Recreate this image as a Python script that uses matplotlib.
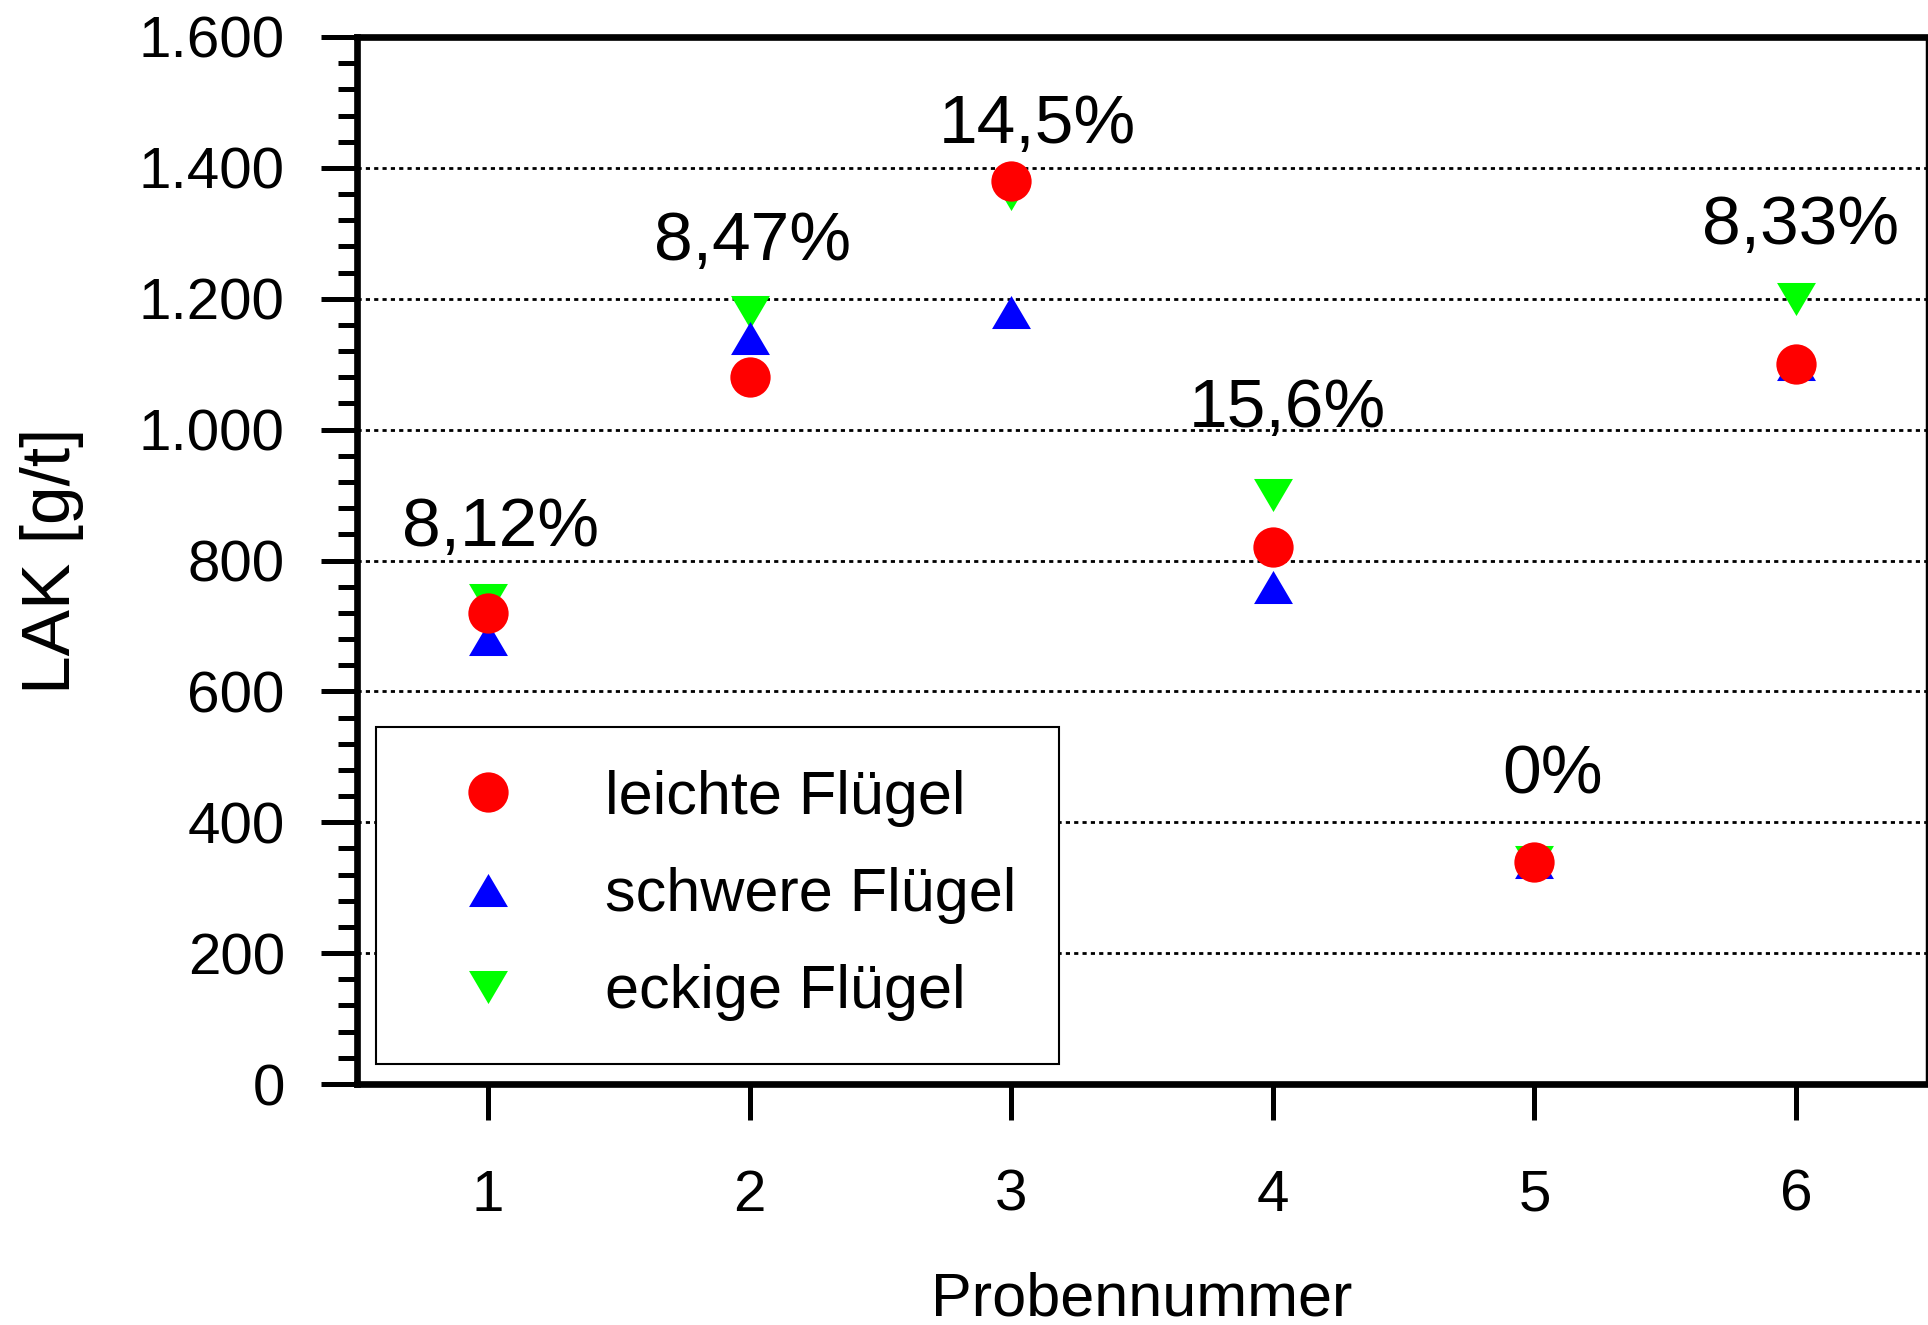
"""LAK je Probe fuer drei Fluegelformen (Streudiagramm mit Abweichung in %)."""
import matplotlib as mpl
import matplotlib.pyplot as plt
from matplotlib.ticker import FuncFormatter, MultipleLocator

# ---------------------------------------------------------------------------
# Daten
# ---------------------------------------------------------------------------
proben = [1, 2, 3, 4, 5, 6]
leichte = [720, 1080, 1380, 820, 340, 1100]
schwere = [680, 1140, 1180, 760, 340, 1100]
eckige = [740, 1180, 1360, 900, 340, 1200]

abweichung = ["8,12%", "8,47%", "14,5%", "15,6%", "0%", "8,33%"]
# Position der Prozentangaben (Datenkoordinaten)
abw_x = [1.05, 2.01, 3.10, 4.055, 5.07, 6.015]
abw_y = [849, 1286, 1465, 1031, 471, 1311]

y_ticks = [0, 200, 400, 600, 800, 1000, 1200, 1400, 1600]

# ---------------------------------------------------------------------------
# Stil
# ---------------------------------------------------------------------------
mpl.rcParams.update({
    "font.family": ["Liberation Sans", "DejaVu Sans"],
    "font.size": 44,
    "figure.facecolor": "white",
})

ROT = "#FF0000"
BLAU = "#0000FF"
GRUEN = "#00FF00"

# Dreiecke etwas flacher als die Standardmarker
TRI_UP = [(-1, -0.85), (1, -0.85), (0, 0.85)]
TRI_DOWN = [(-1, 0.85), (1, 0.85), (0, -0.85)]

fig = plt.figure(figsize=(19.28, 13.25), dpi=100)
ax = fig.add_axes([357 / 1928, 1 - 1084 / 1325,
                   (1927 - 357) / 1928, (1084 - 37) / 1325])

ax.plot(proben, eckige, ls="none", marker=TRI_DOWN, ms=28, mew=0,
        color=GRUEN, label="eckige Flügel", zorder=3)
ax.plot(proben, schwere, ls="none", marker=TRI_UP, ms=28, mew=0,
        color=BLAU, label="schwere Flügel", zorder=4)
ax.plot(proben, leichte, ls="none", marker="o", ms=29, mew=0,
        color=ROT, label="leichte Flügel", zorder=5)

for txt, x, y in zip(abweichung, abw_x, abw_y):
    ax.text(x, y, txt, fontsize=50, ha="center", va="center", zorder=6)

# Achsen
ax.set_xlim(0.5, 6.5)
ax.set_ylim(0, 1600)
ax.set_xticks(proben)
ax.set_yticks(y_ticks)
ax.yaxis.set_minor_locator(MultipleLocator(40))
ax.yaxis.set_major_formatter(
    FuncFormatter(lambda v, p: f"{int(v):,}".replace(",", ".")))

ax.tick_params(axis="both", which="major", direction="out", length=26,
               width=3.6, labelsize=42)
ax.tick_params(axis="y", which="major", pad=26)
ax.tick_params(axis="x", which="major", pad=35)
ax.tick_params(axis="y", which="minor", direction="out", length=14,
               width=3.6)
ax.tick_params(top=False, right=False)

for side in ("left", "top", "bottom"):
    ax.spines[side].set_linewidth(4.8)
ax.spines["right"].set_linewidth(2.5)

ax.yaxis.grid(True, which="major", color="black", lw=2.0,
              ls=(0, (1.5, 1.5)))
ax.set_axisbelow(True)

ax.set_xlabel("Probennummer", fontsize=44, va="center")
ax.xaxis.set_label_coords(0.5, -0.206)
ax.set_ylabel("LAK [g/t]", fontsize=50, va="center")
ax.yaxis.set_label_coords(-0.194, 0.5)

# Legende: Reihenfolge leicht, schwer, eckig
h, l = ax.get_legend_handles_labels()
leg = ax.legend(h[::-1], l[::-1], loc="lower left",
                bbox_to_anchor=(0.0121, 0.0191), fontsize=44,
                frameon=True, fancybox=False, shadow=False, framealpha=1,
                edgecolor="black", borderpad=0.7, labelspacing=0.66,
                handlelength=2.25, handletextpad=0.8, borderaxespad=0)
leg.get_frame().set_linewidth(1.5)
leg.set_zorder(2)

fig.savefig("out.png", dpi=100, facecolor="white")
